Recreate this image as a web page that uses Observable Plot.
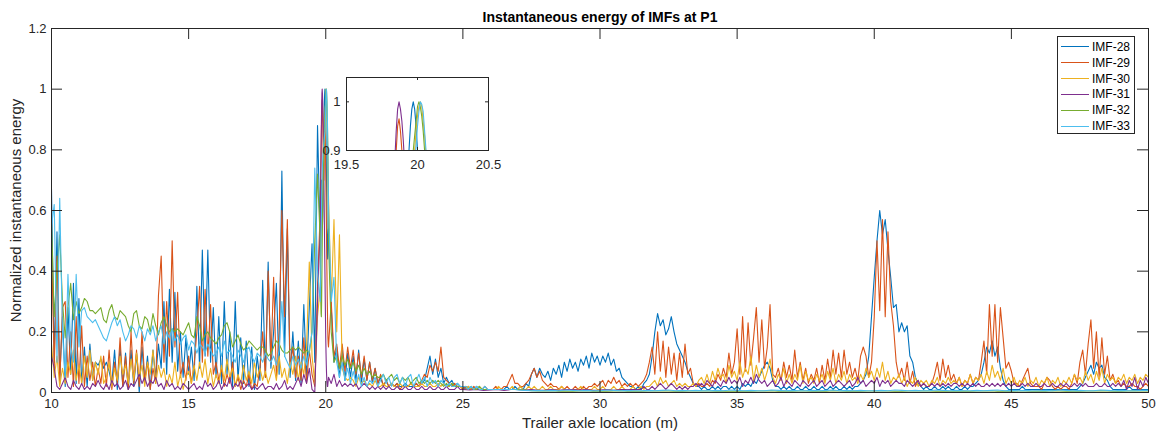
<!DOCTYPE html>
<html>
<head>
<meta charset="utf-8">
<script src="https://cdn.jsdelivr.net/npm/d3@7"></script>
<script src="https://cdn.jsdelivr.net/npm/@observablehq/plot@0.6"></script>
<style>
  html, body { margin: 0; padding: 0; background: #fff; }
  #wrap { position: relative; width: 1156px; height: 435px; overflow: hidden; }
  #inset { position: absolute; left: 306px; top: 72px; }
  #legend { position: absolute; left: 1057px; top: 36px; width: 78px; height: 98px; box-sizing: border-box;
            border: 1px solid #262626; background: #fff; font: 12px "Liberation Sans", Arial, sans-serif; color: #000; }
  .lrow { position: absolute; left: 0; height: 16px; line-height: 16px; white-space: nowrap; }
  .lline { position: absolute; left: 3px; top: 7.5px; width: 28px; height: 0; border-top: 1.5px solid; }
  .ltext { position: absolute; left: 34px; top: 0; }
</style>
</head>
<body>
<div id="wrap"><div id="main"></div><div id="inset"></div><div id="legend"></div></div>
<script>
// ---- chart text ----
const title = "Instantaneous energy of IMFs at P1";
const xLabel = "Trailer axle location (m)";
const yLabel = "Normalized instantaneous energy";
const seriesNames = ["IMF-28", "IMF-29", "IMF-30", "IMF-31", "IMF-32", "IMF-33"];
const seriesColors = ["#0072BD", "#D95319", "#EDB120", "#7E2F8E", "#77AC30", "#4DBEEE"];
const xTicks = [10, 15, 20, 25, 30, 35, 40, 45, 50];
const yTicks = [0, 0.2, 0.4, 0.6, 0.8, 1, 1.2];
const insetXTicks = [19.5, 20, 20.5];
const insetYTicks = [0.9, 1];

// ---- values in hundredths; one row per metre starting at 10 m (last row = 50 m) ----
const imf28 = [
[67,10,53,4,25,2,28,6,36,3],
[31,3,15,2,16,4,10,9,11,8],
[10,7,3,14,1,15,2,13,1,14],
[2,13,0,15,3,12,1,14,5,16],
[8,30,6,34,10,33,7,20,5,18],
[6,15,4,35,8,47,12,47,10,28],
[5,25,3,30,6,20,2,30,4,18],
[3,17,2,15,1,12,4,37,5,43],
[8,20,36,6,73,12,54,5,20,4],
[17,3,29,5,28,49,10,88,50,62],
[90,54,28,10,15,5,14,4,13,5],
[12,4,14,3,11,4,10,3,8,3],
[5,2,4,2,3,2,3,2,2,3],
[2,2,2,3,2,3,4,8,12,6],
[11,5,8,3,5,3,4,2,3,2],
[2,1,2,1,1,2,1,1,1,1],
[1,1,1,1,1,1,2,1,1,2],
[1,2,1,3,2,6,8,5,8,6],
[5,7,4,8,6,9,5,10,7,11],
[8,10,7,11,9,12,8,13,10,12],
[9,12,10,13,9,11,7,8,5,4],
[3,2,2,1,2,1,3,4,6,12],
[20,26,22,24,19,21,25,20,16,14],
[12,10,7,5,3,2,2,1,2,1],
[1,2,1,2,1,2,2,1,2,1],
[2,1,3,2,3,2,4,3,5,7],
[9,10,8,4,2,2,1,2,1,2],
[1,1,2,1,1,2,1,1,2,1],
[1,2,1,1,2,1,2,1,1,2],
[1,2,1,2,2,3,4,6,12,25],
[38,50,60,52,57,47,38,28,29,20],
[23,20,22,12,10,5,3,2,1,2],
[1,1,2,1,1,2,1,2,1,1],
[2,1,1,2,1,2,2,3,4,6],
[10,15,13,17,12,15,8,4,2,1],
[1,1,1,1,2,1,1,1,1,1],
[1,1,1,1,1,1,1,1,1,1],
[1,1,1,1,1,2,3,5,7,9],
[6,10,8,9,5,4,2,1,1,1],
[1,1,1,2,1,1,1,1,1,1],
[1]
];
const imf29 = [
[50,8,45,3,28,30,5,20,2,25],
[3,22,2,12,4,10,2,8,3,12],
[2,14,1,10,3,18,2,12,1,20],
[3,14,2,20,4,10,1,8,3,32],
[45,10,30,12,50,15,33,5,10,4],
[12,3,9,20,35,10,34,12,29,6],
[10,4,8,2,6,3,10,2,5,1],
[4,2,6,1,3,2,8,20,5,40],
[10,38,5,20,60,25,57,8,15,5],
[12,4,18,3,14,6,2,35,60,84],
[72,15,30,12,16,8,16,7,15,8],
[14,6,13,5,12,4,10,4,8,3],
[6,2,4,2,3,2,3,1,2,2],
[2,3,2,3,2,4,6,5,9,7],
[10,7,15,5,4,3,2,3,2,2],
[1,2,1,1,2,1,1,1,2,1],
[1,1,2,1,1,2,2,4,6,3],
[3,2,2,3,4,6,8,5,7,4],
[3,2,3,2,2,1,2,1,2,1],
[1,2,1,1,2,1,2,2,3,2],
[3,4,2,4,3,5,3,4,2,3],
[2,3,2,3,2,3,4,6,10,15],
[6,20,7,17,5,15,6,13,4,13],
[5,16,6,8,3,2,3,2,2,3],
[2,4,3,6,4,8,5,13,6,10],
[21,6,25,7,23,9,18,28,10,24],
[8,15,29,6,5,8,4,10,5,9],
[4,14,5,10,4,8,3,6,4,8],
[3,9,4,11,5,14,6,13,5,14],
[6,10,5,8,4,12,15,12,5,10],
[25,50,27,57,25,53,30,22,10,5],
[8,4,10,3,7,2,4,2,3,2],
[2,3,6,10,4,11,5,9,4,6],
[3,5,2,4,3,6,3,5,4,10],
[17,6,29,12,29,10,28,18,8,10],
[7,3,3,2,4,6,8,3,2,2],
[2,1,3,5,4,2,1,2,1,2],
[2,1,3,6,3,10,14,6,16,24],
[8,20,5,18,6,12,4,6,3,4],
[2,3,2,2,3,2,2,1,2,3],
[2]
];
const imf30 = [
[16,5,12,2,8,3,10,6,14,4],
[9,3,12,5,14,4,10,6,12,3],
[5,10,2,8,4,12,6,9,3,11],
[4,13,5,9,2,10,6,14,3,9],
[5,8,2,6,3,10,2,6,1,5],
[7,3,9,4,10,5,11,3,8,2],
[6,3,9,4,11,5,8,2,6,3],
[9,4,7,3,10,5,8,4,7,3],
[6,9,4,12,5,8,3,10,6,12],
[4,10,6,15,43,12,3,25,35,73],
[97,65,30,57,20,52,8,5,4,5],
[4,2,5,3,4,2,3,2,4,2],
[2,3,2,2,3,2,2,3,2,2],
[2,3,2,2,2,3,2,2,3,2],
[2,3,2,3,2,2,3,2,2,2],
[1,1,2,1,1,1,2,1,1,1],
[1,1,1,2,1,1,1,1,2,1],
[1,2,1,1,2,1,2,1,1,2],
[1,1,2,1,1,1,2,1,1,1],
[1,1,1,2,1,1,1,1,2,1],
[1,2,1,1,1,2,1,1,2,1],
[1,1,2,1,1,2,1,2,2,3],
[4,2,5,3,4,2,3,4,2,3],
[2,3,2,2,3,2,4,5,3,6],
[3,7,4,8,5,6,3,9,5,7],
[4,10,5,8,6,12,4,9,5,8],
[4,7,11,5,3,6,4,8,3,6],
[3,6,4,9,3,7,4,5,3,6],
[4,6,3,7,4,8,3,6,4,7],
[3,6,4,5,3,6,4,8,5,7],
[4,8,5,10,4,7,3,5,4,6],
[3,5,2,4,3,5,2,4,3,4],
[2,4,3,5,2,4,3,5,3,4],
[3,5,2,4,3,6,3,5,4,6],
[3,7,4,9,5,7,4,8,3,5],
[3,5,2,4,3,5,2,4,3,5],
[2,4,3,5,2,4,3,5,2,4],
[3,5,3,6,4,5,3,7,4,6],
[3,7,4,8,3,6,4,5,3,5],
[4,6,3,5,4,6,3,5,4,6],
[5]
];
const imf31 = [
[12,8,2,1,3,5,2,1,4,2],
[1,3,1,2,1,3,2,4,2,1],
[3,1,4,2,3,1,2,4,1,3],
[2,4,6,3,5,2,4,3,5,2],
[3,1,4,2,3,1,2,1,3,2],
[1,2,3,1,2,1,4,2,3,1],
[2,4,1,3,2,5,1,3,2,4],
[1,2,3,1,2,1,2,3,1,2],
[2,1,3,1,2,4,1,2,1,3],
[5,2,6,3,8,1,0,30,55,92],
[18,5,3,6,2,4,2,3,2,3],
[2,3,1,2,3,2,1,2,1,2],
[1,2,1,2,1,1,2,1,1,2],
[1,1,2,1,1,2,1,1,2,1],
[1,2,1,1,2,1,1,1,2,1],
[1,0.8,1,0.7],
[0.8,1,0.7,1],
[1,0.8,1,0.7],
[0.8,1,0.7,1],
[1,0.8,1,0.7],
[0.8,1,0.7,1],
[1,1,1,1,1,1,2,1,1,2],
[1,2,3,2,1,2,3,2,1,2],
[1,2,1,2,2,3,2,3,2,4],
[3,2,4,3,2,4,3,5,3,4],
[3,5,2,4,3,5,3,6,4,3],
[4,2,3,4,2,3,5,2,4,3],
[2,4,3,2,4,3,2,3,4,2],
[3,4,2,3,4,2,3,4,3,2],
[3,4,2,3,5,3,4,2,3,4],
[3,5,2,4,3,4,2,3,4,3],
[3,2,4,3,2,3,4,2,3,2],
[2,3,2,3,2,3,2,3,2,3],
[3,2,3,2,3,2,3,2,3,2],
[2,3,2,3,2,3,2,3,2,3],
[2,3,2,2,3,2,3,2,2,3],
[2,2,3,2,2,3,2,2,3,2],
[3,2,2,3,2,3,2,3,2,2],
[2,3,2,2,3,2,2,3,2,3],
[2,4,1,4,2,5,1,4,2,5],
[3]
];
const imf32 = [
[56,25,40,52,30,18,28,36,24,30],
[26,28,31,30,27,27,26,27,28,24],
[23,27,29,25,24,27,26,25,22,20],
[26,27,22,21,25,24,20,26,22,19],
[23,25,22,20,21,20,21,20,19,21],
[23,19,18,25,22,17,19,20,18,17],
[16,18,19,22,23,20,15,17,19,16],
[14,15,17,16,15,14,15,15,14,12],
[13,15,17,16,14,13,13,14,15,14],
[15,14,13,14,13,20,50,72,50,68],
[99,50,20,10,12,8,12,9,11,8],
[10,7,9,6,8,6,7,5,6,5],
[5,6,4,5,6,4,5,3,5,4],
[5,3,4,5,3,4,3,4,3,4],
[3,4,3,2,3,2,3,2,2,2],
[2,2,1,2,1,1,2,1,1,1],
[1,1,1,1,1,1,1,1,1,1],
[1,0.8,0.6,0.5],
[0.5,0.6,0.4,0.5],
[0.4,0.5,0.6,0.4],
[0.5,0.4,0.5,0.6],
[0.4,0.5,0.4,0.5],
[0.5,0.6,0.5,0.4],
[0.4,0.5,0.6,0.5],
[0.5,0.4,0.5,0.4],
[0.4,0.5,0.4,0.5],
[0.5,0.6,0.4,0.5],
[0.4,0.5,0.5,0.4],
[0.5,0.4,0.6,0.5],
[0.4,0.5,0.4,0.5],
[0.5,0.6,0.5,0.4],
[0.4,0.5,0.6,0.5],
[0.5,0.4,0.5,0.4],
[0.4,0.5,0.4,0.5],
[0.5,0.6,0.4,0.5],
[0.4,0.5,0.5,0.4],
[0.5,0.4,0.6,0.5],
[0.4,0.5,0.4,0.5],
[0.5,0.6,0.5,0.4],
[0.4,0.5,0.6,0.5],
[0.5]
];
const imf33 = [
[55,62,10,64,20,5,39,15,10,39],
[15,27,28,25,24,23,24,22,20,18],
[17,20,23,25,22,24,20,17,19,22],
[21,18,22,20,17,21,19,22,17,20],
[22,16,20,18,21,17,19,16,18,19],
[14,17,16,13,16,15,13,16,14,12],
[13,15,12,17,13,14,12,10,14,12],
[10,14,15,12,10,13,12,10,13,11],
[10,12,9,14,30,12,10,8,12,9],
[11,8,12,9,14,20,74,40,30,79],
[95,62,30,38,10,5,10,4,8,3],
[7,3,6,2,5,2,4,3,5,2],
[4,6,3,5,2,5,6,3,5,2],
[5,6,2,4,6,3,5,2,5,3],
[4,2,4,3,2,3,2,2,3,2],
[2,2,1,2,1,2,1,1,2,1],
[1,1,1,1,1,1,1,1,1,1],
[0.8,0.7,0.6,0.7],
[0.6,0.7,0.6,0.8],
[0.7,0.6,0.7,0.6],
[0.6,0.8,0.7,0.6],
[0.7,0.6,0.6,0.7],
[0.6,0.7,0.8,0.6],
[0.7,0.6,0.7,0.6],
[0.6,0.7,0.6,0.8],
[0.7,0.6,0.7,0.6],
[0.6,0.8,0.7,0.6],
[0.7,0.6,0.6,0.7],
[0.6,0.7,0.8,0.6],
[0.7,0.6,0.7,0.6],
[0.6,0.7,0.6,0.8],
[0.7,0.6,0.7,0.6],
[0.6,0.8,0.7,0.6],
[0.7,0.6,0.6,0.7],
[0.6,0.7,0.8,0.6],
[0.7,0.6,0.7,0.6],
[0.6,0.7,0.6,0.8],
[0.7,0.6,0.7,0.6],
[0.6,0.8,0.7,0.6],
[0.7,0.6,0.6,0.7],
[0.7]
];

// ---- peak detail (actual values), 19.80 m to 20.10 m every 0.01 m ----
const peak28 = [0.5,0.45,0.5,0.6,0.68,0.7,0.66,0.6,0.55,0.58,0.62,0.7,0.76,0.84,0.9,0.95,0.985,1,0.985,0.95,0.9,0.84,0.76,0.68,0.6,0.52,0.46,0.44,0.47,0.52,0.54];
const peak29 = [0.6,0.68,0.75,0.8,0.86,0.9,0.95,0.965,0.94,0.9,0.84,0.78,0.72,0.7,0.74,0.8,0.85,0.87,0.85,0.8,0.72,0.65,0.58,0.5,0.42,0.35,0.28,0.22,0.18,0.16,0.15];
const peak30 = [0.35,0.4,0.45,0.5,0.55,0.6,0.63,0.66,0.69,0.71,0.73,0.74,0.75,0.76,0.78,0.8,0.83,0.86,0.9,0.94,0.97,0.99,1,0.99,0.96,0.93,0.89,0.84,0.78,0.72,0.65];
const peak31 = [0.55,0.62,0.7,0.79,0.88,0.94,0.985,1,0.985,0.96,0.92,0.87,0.8,0.72,0.64,0.56,0.48,0.4,0.32,0.25,0.18,0.13,0.09,0.06,0.04,0.03,0.02,0.02,0.03,0.04,0.05];
const peak32 = [0.5,0.4,0.3,0.26,0.25,0.3,0.38,0.47,0.55,0.62,0.68,0.73,0.77,0.8,0.83,0.86,0.88,0.9,0.93,0.96,0.99,1,0.99,0.97,0.94,0.9,0.85,0.78,0.7,0.6,0.5];
const peak33 = [0.3,0.35,0.42,0.5,0.57,0.63,0.68,0.72,0.75,0.77,0.79,0.8,0.81,0.82,0.83,0.84,0.85,0.86,0.88,0.91,0.95,0.98,1,0.995,0.98,0.94,0.9,0.85,0.78,0.7,0.62];

const rowsList = [imf28, imf29, imf30, imf31, imf32, imf33];
const peakList = [peak28, peak29, peak30, peak31, peak32, peak33];

function build(name, rows, peak) {
  const pts = [];
  rows.forEach((row, r) => row.forEach((v, j) => {
    const x = 10 + r + j / row.length;
    if (x < 19.795 || x > 20.105) pts.push({series: name, x, y: v / 100});
  }));
  peak.forEach((v, j) => pts.push({series: name, x: 19.8 + j * 0.01, y: v}));
  pts.sort((a, b) => a.x - b.x);
  return pts;
}
const data = seriesNames.flatMap((n, i) => build(n, rowsList[i], peakList[i]));
const insetData = data.filter(d => d.x >= 19.3 && d.x <= 20.7);

const ink = "#262626";
const font = "'Liberation Sans', Arial, Helvetica, sans-serif";

// ---- main axes ----
const W = 1156, H = 435, mL = 51, mR = 8, mT = 28, mB = 43;
const iW = W - mL - mR, iH = H - mT - mB, tl = 11;
const main = Plot.plot({
  width: W, height: H, marginLeft: mL, marginRight: mR, marginTop: mT, marginBottom: mB,
  style: {fontFamily: font, fontSize: "13px", color: ink, background: "transparent", overflow: "visible"},
  x: {domain: [10, 50]},
  y: {domain: [0, 1.2]},
  color: {domain: seriesNames, range: seriesColors},
  marks: [
    Plot.line(data, {x: "x", y: "y", z: "series", stroke: "series", strokeWidth: 1.1, clip: true}),
    Plot.frame({stroke: ink, strokeWidth: 1}),
    Plot.tickX(xTicks, {x: d => d, insetTop: iH - tl, stroke: ink}),
    Plot.tickX(xTicks, {x: d => d, insetBottom: iH - tl, stroke: ink}),
    Plot.tickY(yTicks, {y: d => d, insetRight: iW - tl, stroke: ink}),
    Plot.tickY(yTicks, {y: d => d, insetLeft: iW - tl, stroke: ink}),
    Plot.axisX({ticks: xTicks, tickSize: 0, tickPadding: 6, label: null, tickFormat: d => String(d), fill: ink}),
    Plot.axisY({ticks: yTicks, tickSize: 0, tickPadding: 5, label: null, tickFormat: d => String(d), fill: ink}),
    Plot.text([xLabel], {text: d => d, frameAnchor: "bottom", dy: 35, fontSize: 15, fill: ink}),
    Plot.text([yLabel], {text: d => d, frameAnchor: "left", textAnchor: "middle", dx: -35, rotate: -90, fontSize: 15, fill: ink}),
    Plot.text([title], {text: d => d, frameAnchor: "top", dy: -16, fontSize: 14, fontWeight: "bold", fill: "#000"})
  ]
});
document.getElementById("main").appendChild(main);

// ---- inset axes ----
const iw = 142, ih = 73, imL = 40, imR = 20, imT = 5, imB = 25, itl = 3;
const inset = Plot.plot({
  width: iw + imL + imR, height: ih + imT + imB,
  marginLeft: imL, marginRight: imR, marginTop: imT, marginBottom: imB,
  style: {fontFamily: font, fontSize: "13px", color: ink, background: "transparent", overflow: "visible"},
  x: {domain: [19.5, 20.5]},
  y: {domain: [0.9, 1.05]},
  color: {domain: seriesNames, range: seriesColors},
  marks: [
    Plot.frame({fill: "white"}),
    Plot.line(insetData, {x: "x", y: "y", z: "series", stroke: "series", strokeWidth: 1.1, clip: true}),
    Plot.frame({stroke: ink, strokeWidth: 1}),
    Plot.tickX(insetXTicks, {x: d => d, insetTop: ih - itl, stroke: ink}),
    Plot.tickX(insetXTicks, {x: d => d, insetBottom: ih - itl, stroke: ink}),
    Plot.tickY(insetYTicks, {y: d => d, insetRight: iw - itl, stroke: ink}),
    Plot.tickY(insetYTicks, {y: d => d, insetLeft: iw - itl, stroke: ink}),
    Plot.axisX({ticks: insetXTicks, tickSize: 0, tickPadding: 9, label: null, tickFormat: d => String(d), fill: ink}),
    Plot.axisY({ticks: insetYTicks, tickSize: 0, tickPadding: 6, label: null, tickFormat: d => String(d), fill: ink})
  ]
});
document.getElementById("inset").appendChild(inset);

// ---- legend ----
const legend = document.getElementById("legend");
seriesNames.forEach((n, i) => {
  const row = document.createElement("div");
  row.className = "lrow";
  row.style.top = (1.7 + i * 15.9) + "px";
  const ln = document.createElement("span");
  ln.className = "lline";
  ln.style.borderTopColor = seriesColors[i];
  const tx = document.createElement("span");
  tx.className = "ltext";
  tx.textContent = n;
  row.appendChild(ln); row.appendChild(tx);
  legend.appendChild(row);
});
</script>
</body>
</html>
